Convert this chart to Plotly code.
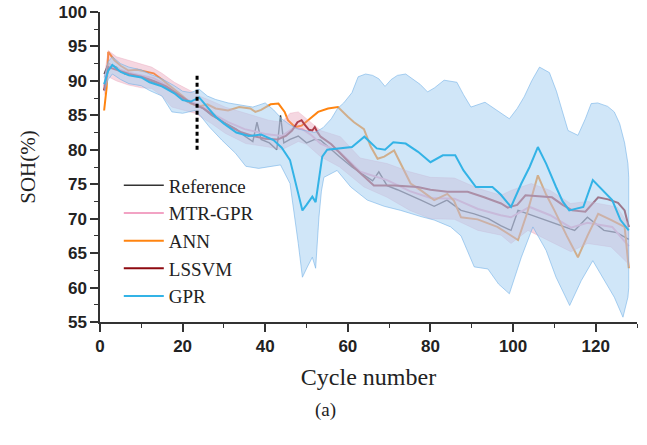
import plotly.graph_objects as go

# ---------------- data ----------------
ref_x = [1, 2, 4, 6, 8, 10, 13, 16, 19, 21, 23, 25, 27, 30, 33, 35, 37, 38, 39, 41, 42.8, 43.7, 44.5, 46, 48, 50, 52,
         53.4, 56, 58, 61, 64, 66, 67.5, 69.5, 72, 74.4, 77.7, 80.9, 84, 87.4, 90.6, 94, 97, 99.5, 101.2, 103.6, 107,
         110, 112, 114.9, 118, 122, 125, 127, 128]
ref_y = [91.0, 92.5, 92.0, 91.0, 90.8, 90.5, 89.8, 89.0, 87.8, 87.0, 86.5, 86.0, 85.0, 84.0, 83.0, 82.0, 81.2, 84.0,
         81.5, 81.0, 80.0, 85.0, 81.0, 81.5, 82.0, 81.0, 81.5, 81.4, 80.0, 79.0, 77.5, 76.3, 75.5, 76.8, 74.8, 74.2,
         73.6, 72.7, 71.8, 72.7, 71.2, 70.7, 70.0, 69.0, 68.3, 71.2, 70.7, 70.0, 69.3, 69.0, 68.3, 70.2, 68.3, 68.0,
         67.3, 67.0]

mtr_x = [1, 2, 4, 7, 10, 13, 16, 19, 22, 25, 28, 31, 35, 40, 44, 47, 49, 51, 53.4, 58, 63, 69.5, 75, 80, 85.8, 91.5,
         97, 99.5, 104, 109, 114, 118, 124, 128]
mtr_y = [89.2, 92.5, 91.8, 91.2, 90.8, 90.4, 89.4, 88.0, 87.0, 86.2, 85.0, 84.0, 83.0, 82.3, 82.0, 83.2, 83.0, 82.2,
         80.9, 79.7, 76.8, 75.6, 74.0, 73.0, 72.9, 71.4, 70.5, 70.2, 71.7, 70.5, 68.7, 69.4, 68.8, 66.0]
mtr_up_x = [1, 2, 4, 6.9, 10, 12.5, 15, 18, 21.8, 24.5, 27.7, 30.3, 35.3, 40.8, 44, 46, 48, 50, 52, 53.4, 58.2, 63,
            69.5, 75, 80, 85.8, 91.5, 97.1, 99.5, 104.4, 109, 113.9, 118, 125.2, 127.8, 128]
mtr_up_y = [90.5, 94.4, 93.5, 93.0, 92.5, 92.0, 91.1, 89.8, 88.6, 87.7, 86.9, 86.2, 85.3, 84.3, 84.0, 85.3, 85.5,
            84.5, 83.5, 82.8, 81.9, 78.8, 78.0, 76.8, 76.0, 75.9, 74.4, 73.4, 74.1, 75.1, 74.1, 72.2, 72.5, 71.7,
            69.3, 68.5]
mtr_lo_x = [1, 2, 4, 6.9, 10, 12.5, 15, 17.4, 20, 23, 27, 30.3, 35.3, 40.8, 44, 46, 48, 50, 53.4, 58, 63.9, 69.5, 75,
            80, 85.8, 91.5, 97.1, 99.5, 103.6, 108.4, 114, 118, 123.7, 127.8, 128]
mtr_lo_y = [88.0, 90.6, 90.0, 89.4, 89.0, 88.9, 87.8, 86.2, 85.8, 85.3, 83.8, 82.4, 80.9, 80.4, 80.0, 80.6, 81.2,
            80.8, 79.0, 77.5, 74.6, 73.1, 71.2, 70.0, 69.9, 68.3, 67.6, 66.4, 68.3, 66.9, 65.2, 66.4, 65.9, 63.5, 63.0]

ann_x = [1, 1.3, 1.6, 2, 3.5, 5, 6.9, 9, 13, 15, 17.4, 20, 22, 24, 26, 28, 31, 33.7, 36.4, 37.6, 39, 41.3, 43.2, 44.7,
         45.5, 47.2, 48.8, 50.4, 52.8, 55.2, 57.6, 60, 61.5, 63.9, 65.5, 67.2, 68.8, 71.2, 73, 75.2, 77.7, 80.9, 84.1,
         85.7, 87.4, 91.4, 96.2, 100.3, 101.2, 103.5, 106, 108, 110, 113, 115.7, 118, 120.6, 123.8, 127, 127.8, 128]
ann_y = [85.7, 87.0, 89.0, 94.2, 93.0, 92.2, 91.5, 91.6, 91.1, 90.2, 89.1, 87.8, 86.7, 86.3, 86.6, 86.0, 85.7, 86.2,
         86.0, 85.5, 85.8, 86.6, 86.7, 85.5, 84.3, 83.3, 83.5, 84.3, 85.5, 86.0, 86.2, 84.8, 84.0, 83.0, 80.5, 78.7,
         79.0, 79.9, 77.8, 75.1, 74.1, 72.7, 73.6, 72.6, 70.2, 69.9, 68.8, 67.3, 66.9, 71.0, 76.3, 73.5, 71.2, 67.5,
         64.4, 67.5, 70.7, 69.8, 68.8, 64.0, 62.8]

lssvm_x = [1, 2, 4, 7, 10, 13, 16, 19, 22, 25, 28, 31, 34, 37, 40, 43, 45, 46.5, 47.8, 48.8, 49.6, 50.6, 51.4, 52,
           52.6, 53.4, 56, 58.2, 61.4, 66.3, 71.2, 76.9, 80, 84.1, 89, 93, 97.1, 98.7, 101, 103, 106, 109.4, 112,
           114.3, 117.5, 118.5, 120.6, 123, 125.4, 127, 127.8, 128]
lssvm_y = [88.6, 92.0, 91.6, 91.0, 90.6, 90.0, 89.2, 88.0, 86.8, 86.0, 84.8, 83.5, 82.6, 82.0, 81.6, 81.5, 82.0,
           82.8, 84.0, 84.3, 83.6, 82.9, 82.8, 83.3, 82.6, 81.9, 80.8, 79.4, 77.5, 74.8, 74.8, 74.6, 74.2, 73.9,
           73.9, 73.1, 72.2, 71.6, 72.0, 73.4, 73.3, 73.1, 72.0, 71.2, 71.0, 71.7, 73.1, 72.8, 72.3, 71.2, 69.5, 68.8]

gpr_x = [1, 2, 3, 5, 7, 10, 12, 15, 18, 20, 22, 24, 26, 28, 30, 33, 36, 39, 42, 44, 46, 47, 49, 50, 51.4, 52.2, 53,
         53.8, 55, 58, 61, 64, 67, 69, 71, 74, 77, 80, 83, 86, 88, 91, 95, 97, 99.5, 102, 104, 106, 108, 110.4, 112,
         113.6, 117, 119.3, 121, 124, 126, 128]
gpr_y = [89.5, 91.5, 92.3, 91.3, 90.8, 90.5, 89.8, 89.2, 88.2, 87.2, 87.0, 87.6, 86.2, 84.8, 83.8, 82.5, 82.0, 82.2,
         81.4, 80.3, 78.5, 76.0, 71.2, 72.0, 73.2, 72.4, 75.6, 79.0, 80.0, 80.2, 80.4, 81.9, 80.2, 80.0, 81.1, 80.9,
         79.7, 78.2, 79.2, 79.2, 77.0, 74.6, 74.6, 73.5, 71.7, 75.1, 77.5, 80.4, 78.0, 74.6, 72.5, 71.2, 71.7, 75.6,
         74.6, 72.7, 69.8, 68.3]
gpr_up_x = [1, 2, 3, 5, 7, 10, 12, 15, 18, 20, 22, 24, 26, 28, 31, 34, 37, 40, 42, 44, 46, 48, 50, 52, 54, 56, 57.5,
            59, 61, 62.5, 64.3, 66, 67.5, 69, 70.5, 72, 74, 75.6, 77.5, 79.3, 81, 83.3, 86.4, 88, 89.8, 93.2, 96,
            99.1, 101, 102.7, 104.5, 106.4, 108.8, 110.5, 113.3, 115.7, 117.5, 118.9, 120.5, 122.9, 124.5, 125.8,
            127, 127.8, 128]
gpr_up_y = [90.5, 92.8, 93.5, 92.5, 92.0, 91.6, 91.0, 90.3, 89.3, 88.5, 88.3, 88.8, 87.8, 87.3, 86.8, 86.5, 86.2,
            86.8, 85.8, 84.5, 83.6, 83.0, 82.8, 82.5, 83.2, 84.5, 86.0, 86.8, 88.3, 90.6, 91.0, 90.8, 90.3, 89.2,
            90.2, 90.8, 91.0, 90.3, 89.5, 88.4, 89.0, 90.1, 89.8, 88.0, 86.2, 86.9, 85.8, 84.5, 86.0, 87.7, 90.0,
            92.0, 91.2, 88.5, 82.8, 82.1, 84.5, 86.7, 86.8, 86.3, 85.5, 83.8, 81.0, 78.0, 76.0]
gpr_lo_x = [1, 2, 3, 5, 7, 10, 12, 15, 17.4, 20, 23, 24.5, 26.5, 29.5, 32.8, 35.3, 38.4, 40.8, 43.7, 46, 47, 48, 49,
            50.2, 51.4, 52.2, 53, 53.6, 54.2, 57.4, 60.7, 64.7, 68.8, 72.8, 77.7, 80.9, 84.9, 87.4, 90.6, 93.9, 96.5,
            99.1, 102, 104.8, 108, 110.4, 113.7, 116.5, 119.3, 122.1, 124.5, 126.6, 127.8, 128]
gpr_lo_y = [88.5, 90.2, 91.0, 90.2, 89.6, 89.3, 88.6, 87.8, 85.5, 85.3, 85.7, 84.8, 83.3, 81.4, 79.5, 77.6, 77.3,
            77.5, 77.8, 75.1, 71.0, 66.4, 61.5, 63.0, 64.4, 62.8, 70.2, 74.0, 76.0, 77.0, 74.6, 72.7, 71.8, 71.2,
            70.3, 69.8, 68.8, 67.5, 63.0, 62.7, 60.5, 59.1, 64.4, 68.8, 65.4, 61.5, 57.4, 61.0, 63.9, 61.1, 58.6,
            55.7, 58.6, 60.0]

split_cycle = 23.5
split_range = [80, 91]

x_ticks = [0, 20, 40, 60, 80, 100, 120]
y_ticks = [55, 60, 65, 70, 75, 80, 85, 90, 95, 100]

# ---------------- styling ----------------
C_REF = "#333333"
C_MTR = "#f2a3c4"
C_ANN = "#ff8410"
C_LSSVM = "#8e0a10"
C_GPR = "#33b3e6"

fig = go.Figure()

fig.add_trace(go.Scatter(x=ref_x, y=ref_y, mode="lines", name="Reference",
                         line=dict(color=C_REF, width=1.4)))
fig.add_trace(go.Scatter(x=mtr_x, y=mtr_y, mode="lines", name="MTR-GPR",
                         line=dict(color=C_MTR, width=2)))
fig.add_trace(go.Scatter(x=ann_x, y=ann_y, mode="lines", name="ANN",
                         line=dict(color=C_ANN, width=2)))
fig.add_trace(go.Scatter(x=lssvm_x, y=lssvm_y, mode="lines", name="LSSVM",
                         line=dict(color=C_LSSVM, width=2)))

# MTR-GPR confidence band
fig.add_trace(go.Scatter(x=mtr_up_x + mtr_lo_x[::-1], y=mtr_up_y + mtr_lo_y[::-1],
                         mode="lines", fill="toself", fillcolor="rgba(230,150,175,0.38)",
                         line=dict(color="rgba(230,150,175,0.4)", width=0.8),
                         showlegend=False, hoverinfo="skip"))
# GPR confidence band
fig.add_trace(go.Scatter(x=gpr_up_x + gpr_lo_x[::-1], y=gpr_up_y + gpr_lo_y[::-1],
                         mode="lines", fill="toself", fillcolor="rgba(170,210,243,0.55)",
                         line=dict(color="rgba(110,175,230,0.7)", width=0.8),
                         showlegend=False, hoverinfo="skip"))

fig.add_trace(go.Scatter(x=gpr_x, y=gpr_y, mode="lines", name="GPR",
                         line=dict(color=C_GPR, width=2)))

# dashed split marker
fig.add_shape(type="line", x0=split_cycle, x1=split_cycle, y0=split_range[0], y1=split_range[1],
              xref="x", yref="y", line=dict(color="black", width=3, dash="4px,3px"))

tickfont = dict(family="Liberation Sans, Arial", size=17, color="#222222", weight="bold")
serif = "Liberation Serif, Times New Roman, serif"

fig.update_xaxes(range=[0, 130], tickvals=x_ticks, ticktext=[str(v) for v in x_ticks], automargin=False,
                 showgrid=False, zeroline=False, showline=True, linecolor="#333333", linewidth=1.5,
                 ticks="outside", ticklen=8, tickwidth=1.5, tickcolor="#333333",
                 minor=dict(dtick=10, tick0=0, ticks="outside", ticklen=4, tickwidth=1.2, tickcolor="#333333"),
                 tickfont=tickfont,
                 title=dict(text="Cycle number", font=dict(family=serif, size=24, color="#222222"), standoff=13))
fig.update_yaxes(range=[55, 100], tickvals=y_ticks, ticktext=[str(v) for v in y_ticks], automargin=False,
                 showgrid=False, zeroline=False, showline=True, linecolor="#333333", linewidth=1.5,
                 ticks="outside", ticklen=8, tickwidth=1.5, tickcolor="#333333",
                 minor=dict(dtick=2.5, tick0=55, ticks="outside", ticklen=4, tickwidth=1.2, tickcolor="#333333"),
                 tickfont=tickfont,
                 title=dict(text="SOH(%)", font=dict(family=serif, size=21, color="#222222"), standoff=17))

fig.add_annotation(text="(a)", x=0.419, y=-0.285, xref="paper", yref="paper", showarrow=False,
                   xanchor="center", yanchor="middle",
                   font=dict(family=serif, size=19, color="#222222"))

fig.update_layout(
    width=647, height=445,
    margin=dict(l=100, r=10, t=12, b=123),
    paper_bgcolor="white", plot_bgcolor="white",
    showlegend=True,
    legend=dict(x=0.035, y=0.502, xanchor="left", yanchor="top", bgcolor="rgba(0,0,0,0)",
                font=dict(family=serif, size=19, color="#222222"), tracegroupgap=0,
                itemwidth=40),
)

fig.write_html("out.html")
